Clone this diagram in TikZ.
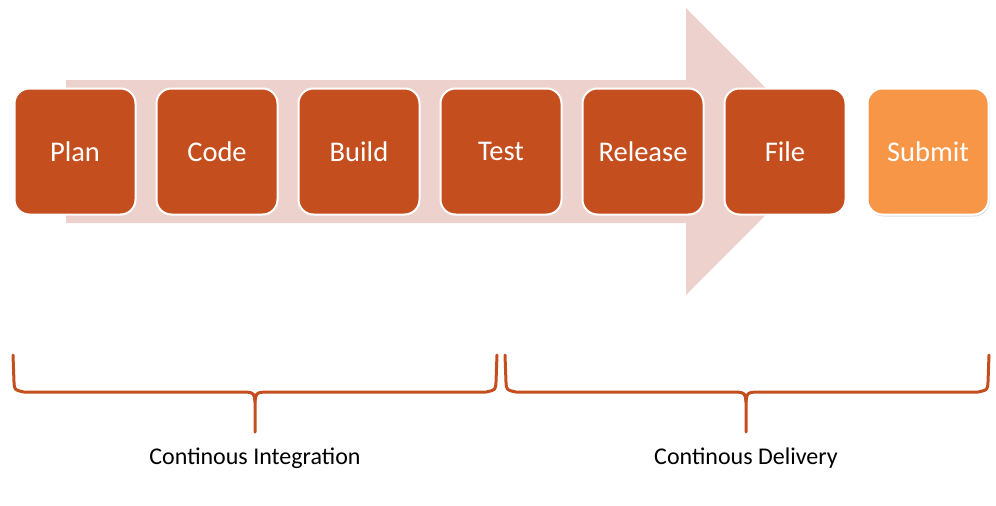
\documentclass[tikz,border=0pt]{standalone}
\usepackage{fontspec}
\setmainfont{Carlito}
\usetikzlibrary{shadows}
\definecolor{boxorange}{RGB}{197,78,30}
\definecolor{lightorange}{RGB}{247,150,70}
\definecolor{arrowpink}{RGB}{237,209,204}
\tikzset{
  stagebox/.style={rectangle, rounded corners=15pt, minimum width=121pt, minimum height=126pt,
    fill=boxorange, draw=white, line width=2pt, text=white, font=\fontsize{28.5}{32}\selectfont, inner sep=0pt},
  brace/.style={draw=boxorange, line width=3pt, line join=round, line cap=round},
  bracelabel/.style={font=\fontsize{24}{28}\selectfont, text=black}
}
\begin{document}
\begin{tikzpicture}[x=1pt,y=-1pt]
\useasboundingbox (0,0) rectangle (996,506);
% big background arrow
\fill[arrowpink] (66,80) -- (686,80) -- (686,8) -- (829,151.5) -- (686,295) -- (686,223) -- (66,223) -- cycle;
% stages
\node[stagebox] (plan) at (75,151.5) {Plan};
\node[stagebox] (code) at (217,151.5) {Code};
\node[stagebox] (build) at (359,151.5) {Build};
\node[stagebox] (test) at (501,151.5) {Test};
\node[stagebox] (release) at (643,151.5) {Release};
\node[stagebox] (file) at (785,151.5) {File};
\node[stagebox, fill=lightorange, drop shadow={shadow xshift=1pt, shadow yshift=-2pt, opacity=0.25}] (submit) at (928,151.5) {Submit};
% braces
\path[brace] (13,355) -- (14,382) .. controls (14.5,390) .. (24,392) -- (246,392) .. controls (254,393) .. (255,402) -- (255,432);
\path[brace] (255,402) .. controls (256,393) .. (264,392) -- (486,392) .. controls (495.5,390) .. (496,382) -- (497,355);
\path[brace] (505,355) -- (506,382) .. controls (506.5,390) .. (516,392) -- (737,392) .. controls (745,393) .. (746,402) -- (746,432);
\path[brace] (746,402) .. controls (747,393) .. (755,392) -- (978,392) .. controls (987.5,390) .. (988,382) -- (989,355);
% labels
\node[bracelabel] (ci) at (255,458) {Continous Integration};
\node[bracelabel] (cd) at (746,458) {Continous Delivery};
\end{tikzpicture}
\end{document}
